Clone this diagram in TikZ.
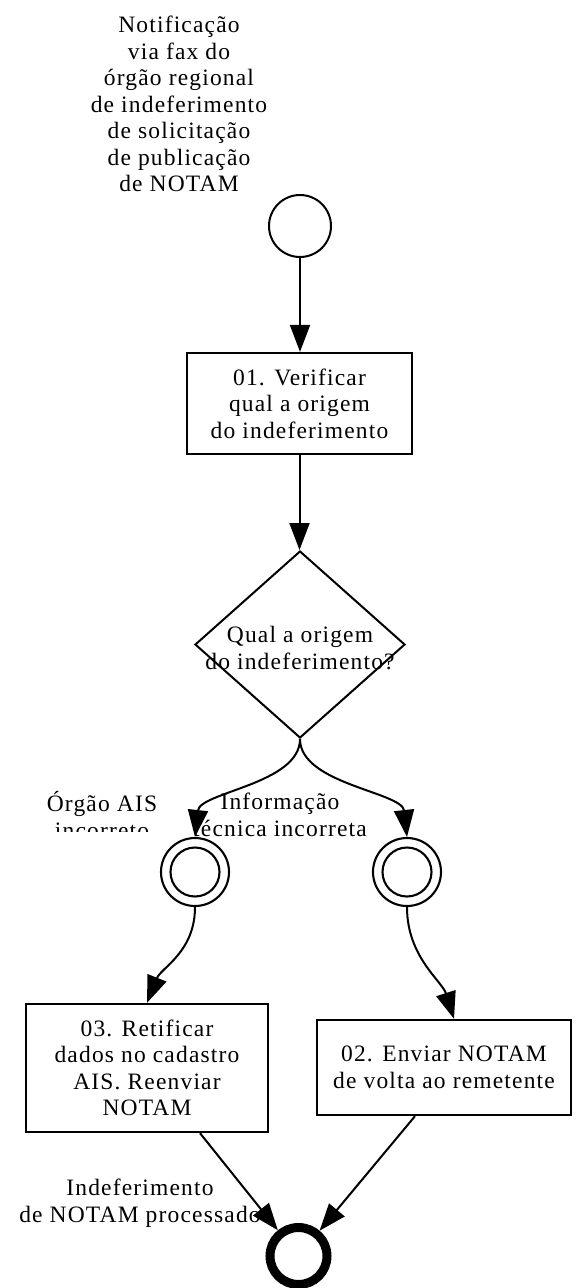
\documentclass[tikz,border=0pt]{standalone}
\usepackage{fontspec}
\setmainfont{Liberation Serif}[LetterSpace=5]
\usetikzlibrary{arrows.meta,shapes.geometric}
\begin{document}
\begin{tikzpicture}[x=1pt,y=-1pt,
  txt/.style={font=\fontsize{23.5}{26.5}\selectfont, align=center, inner sep=0pt},
  task/.style={txt, draw, line width=2.3pt, rectangle},
  startev/.style={draw, circle, line width=2pt, minimum size=62pt, inner sep=0pt},
  midev/.style={draw, circle, line width=2.1pt, minimum size=68pt, inner sep=0pt},
  midin/.style={draw, circle, line width=2.1pt, minimum size=49pt, inner sep=0pt},
  endev/.style={draw, circle, line width=9pt, minimum size=57pt, inner sep=0pt},
  gate/.style={draw, diamond, line width=2pt, minimum width=210pt, minimum height=187pt, inner sep=0pt},
  arr/.style={line width=2pt, -{Triangle[length=27pt,width=20pt]}}
]
\useasboundingbox (0,0) rectangle (585,1288);

% labels (drawn first so connectors overlay them)
\node[txt] (lblstart) at (179,104) {Notificação\\via fax do\\órgão regional\\de indeferimento\\de solicitação\\de publicação\\de NOTAM};
\begin{scope}
  \clip (0,780) rectangle (585,831);
  \node[txt] (lblL) at (102,815) {Órgão AIS\\incorreto};
\end{scope}
\node[txt] (lblR) at (280,815) {Informação\\técnica incorreta};
\node[txt] (lblend) at (140,1203) {Indeferimento\\de NOTAM processado};

% flow nodes
\node[startev] (start) at (300,226) {};
\node[task, minimum width=225pt, minimum height=101pt] (t1) at (299.5,403.5) {01. Verificar\\qual a origem\\do indeferimento};
\node[gate] (dia) at (300,644.5) {};
\node[txt] (diatxt) at (300,648) {Qual a origem\\do indeferimento?};
\node[midev] (evL) at (195,872) {};
\node[midin] (evLi) at (195,872) {};
\node[midev] (evR) at (407,872) {};
\node[midin] (evRi) at (407,872) {};
\node[task, minimum width=242pt, minimum height=128pt] (t3) at (147,1068) {03. Retificar\\dados no cadastro\\AIS. Reenviar\\NOTAM};
\node[task, minimum width=254pt, minimum height=95pt] (t2) at (444,1067.5) {02. Enviar NOTAM\\de volta ao remetente};
\node[endev] (end) at (298.5,1256) {};

% connectors
\draw[arr] (start.south) -- (start |- t1.north);
\draw[arr] (t1.south) -- (t1.south |- dia.north);
\draw[arr] (dia.south) .. controls +(0,45) and +(5,-45) .. (evL.north);
\draw[arr] (dia.south) .. controls +(0,45) and +(-5,-45) .. (evR.north);
\draw[arr] (evL.south) .. controls +(0,45) and +(14,-35) .. (t3.north);
\draw[arr] (evR.south) .. controls +(0,50) and +(-12,-38) .. ([xshift=10pt]t2.north);
\draw[arr] ([xshift=53pt]t3.south) -- (end);
\draw[arr] ([xshift=-29pt]t2.south) -- (end);
\end{tikzpicture}
\end{document}
